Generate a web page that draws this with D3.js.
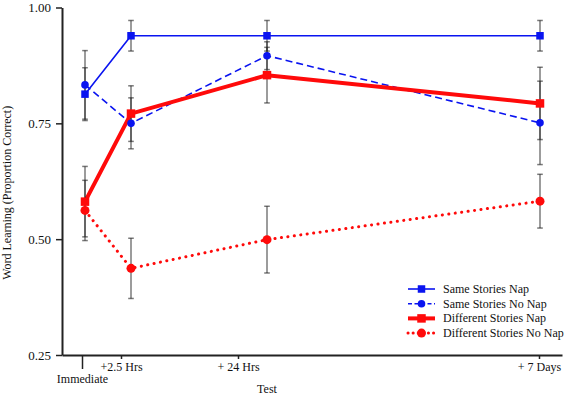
<!DOCTYPE html>
<html><head><meta charset="utf-8">
<script src="https://cdn.jsdelivr.net/npm/d3@7"></script>
<style>
html,body{margin:0;padding:0;background:#fff;}
svg{display:block;}
</style></head>
<body><svg id="chart" width="567" height="397"></svg>
<script>
// ---- data ----
const tickLabels = ["Immediate", "+2.5 Hrs", "+ 24 Hrs", "+ 7 Days"];
const tickPos = [4, 11.8, 35.2, 95.4];          // axis units where tick labels sit
const pointPos = [4.6, 13.8, 41, 95.6];         // axis units where the data were plotted
const yTicks = [0.25, 0.50, 0.75, 1.00];

const seriesNames = ["Same Stories Nap", "Same Stories No Nap", "Different Stories Nap", "Different Stories No Nap"];
const sameNap      = [0.813, 0.939, 0.939, 0.939];
const sameNapErr   = [0.057, 0.033, 0.033, 0.033];
const sameNoNap    = [0.833, 0.750, 0.896, 0.751];
const sameNoNapErr = [0.074, 0.055, 0.030, 0.090];
const diffNap      = [0.581, 0.771, 0.854, 0.793];
const diffNapErr   = [0.076, 0.060, 0.060, 0.078];
const diffNoNap    = [0.562, 0.437, 0.499, 0.582];
const diffNoNapErr = [0.065, 0.065, 0.072, 0.058];

// ---- setup ----
const FONT = '"Liberation Serif", "Times New Roman", serif';
const svg = d3.select("#chart");
const x = d3.scaleLinear().domain([0, 100]).range([62, 562]);
const y = d3.scaleLinear().domain([0.25, 1]).range([355, 7.5]);

const blue = "#0a14f0", red = "#ff0a0a";
const series = [
  {name: seriesNames[0], vals: sameNap, err: sameNapErr, color: blue, width: 1.6, dash: null, cap: "butt", marker: "square", size: 7.5},
  {name: seriesNames[1], vals: sameNoNap, err: sameNoNapErr, color: blue, width: 1.6, dash: "7,4", cap: "butt", marker: "circle", size: 3.8},
  {name: seriesNames[2], vals: diffNap, err: diffNapErr, color: red, width: 4, dash: null, cap: "butt", marker: "square", size: 8.5},
  {name: seriesNames[3], vals: diffNoNap, err: diffNoNapErr, color: red, width: 3, dash: "0.1,6.4", cap: "round", marker: "circle", size: 4.5}
];

// ---- axes ----
const yAxis = d3.axisLeft(y).tickValues(yTicks).tickFormat(d3.format(".2f")).tickSize(6).tickSizeOuter(0);
const gy = svg.append("g").attr("transform", `translate(${x(0)},0)`).call(yAxis);
gy.select(".domain").attr("stroke", "#222").attr("stroke-width", 2);
gy.selectAll(".tick line").attr("stroke", "#222").attr("stroke-width", 1.5);
gy.selectAll(".tick text").style("font-family", FONT).style("font-size", "13px").attr("fill", "#111").attr("x", -11);

const xAxis = d3.axisBottom(x).tickValues(tickPos).tickFormat((d, i) => tickLabels[i]).tickSize(4).tickSizeOuter(0);
const gx = svg.append("g").attr("transform", `translate(0,${y(0.25)})`).call(xAxis);
gx.select(".domain").attr("stroke", "#222").attr("stroke-width", 2);
gx.selectAll(".tick line").attr("stroke", "#222").attr("stroke-width", 1.5)
  .attr("y2", (d, i) => i === 0 ? 14 : 4);
gx.selectAll(".tick text").style("font-family", FONT).style("font-size", "12px").attr("fill", "#111")
  .attr("y", (d, i) => i === 0 ? 19 : 7);

svg.append("text").attr("x", x(41)).attr("y", 393).attr("text-anchor", "middle")
  .style("font-family", FONT).style("font-size", "12px").attr("fill", "#111").text("Test");
svg.append("text").attr("transform", `translate(11,${y(0.6)}) rotate(-90)`).attr("text-anchor", "middle")
  .style("font-family", FONT).style("font-size", "12px").attr("fill", "#111").text("Word Learning (Proportion Correct)");

// ---- lines ----
const line = d3.line().x((d, i) => x(pointPos[i])).y(d => y(d));
series.forEach(s => {
  svg.append("path").attr("d", line(s.vals)).attr("fill", "none")
    .attr("stroke", s.color).attr("stroke-width", s.width)
    .attr("stroke-dasharray", s.dash).attr("stroke-linecap", s.cap).attr("stroke-linejoin", "round");
});

// ---- error bars ----
series.forEach(s => {
  const g = svg.append("g").attr("stroke", "#222").attr("stroke-opacity", 0.6).attr("stroke-width", 1.5);
  s.vals.forEach((v, i) => {
    const cx = x(pointPos[i]);
    const lo = y(v - s.err[i]), hi = y(v + s.err[i]);
    g.append("line").attr("x1", cx).attr("x2", cx).attr("y1", lo).attr("y2", hi);
    g.append("line").attr("x1", cx - 2.8).attr("x2", cx + 2.8).attr("y1", lo).attr("y2", lo);
    g.append("line").attr("x1", cx - 2.8).attr("x2", cx + 2.8).attr("y1", hi).attr("y2", hi);
  });
});

// ---- markers ----
function marker(g, s, cx, cy) {
  if (s.marker === "square") {
    g.append("rect").attr("x", cx - s.size / 2).attr("y", cy - s.size / 2)
      .attr("width", s.size).attr("height", s.size).attr("fill", s.color);
  } else {
    g.append("circle").attr("cx", cx).attr("cy", cy).attr("r", s.size).attr("fill", s.color);
  }
}
series.forEach(s => {
  const g = svg.append("g");
  s.vals.forEach((v, i) => marker(g, s, x(pointPos[i]), y(v)));
});

// ---- legend ----
const lg = svg.append("g").attr("transform", "translate(408,289)");
series.forEach((s, i) => {
  const row = lg.append("g").attr("transform", `translate(0,${i * 14.7})`);
  row.append("line").attr("x1", 0).attr("x2", 27).attr("y1", 0).attr("y2", 0)
    .attr("stroke", s.color).attr("stroke-width", s.width)
    .attr("stroke-dasharray", s.dash === "7,4" ? "4,2.5" : s.dash === null ? null : "0.1,5")
    .attr("stroke-linecap", s.cap);
  marker(row, s, 13.5, 0);
  row.append("text").attr("x", 35).attr("y", 4).style("font-family", FONT).style("font-size", "12px")
    .attr("fill", "#111").text(s.name);
});
</script></body></html>
